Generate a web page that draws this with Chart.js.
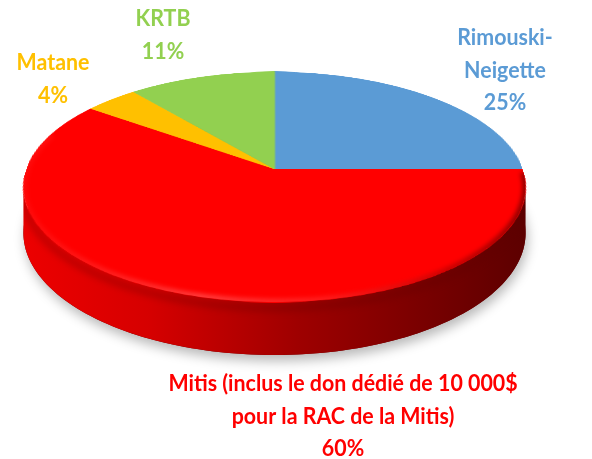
<!DOCTYPE html>
<html><head><meta charset="utf-8">
<script src="https://cdn.jsdelivr.net/npm/chart.js@4.4.1/dist/chart.umd.min.js"></script>
<style>html,body{margin:0;padding:0;background:#fff;overflow:hidden}canvas{display:block}</style>
</head><body>
<canvas id="c" width="592" height="459"></canvas>
<script>
// ---- data ----
const categories = ['Rimouski-Neigette', 'Mitis (inclus le don dédié de 10 000$ pour la RAC de la Mitis)', 'Matane', 'KRTB'];
const values = [25, 60, 4, 11];
const nameLines = [['Rimouski-', 'Neigette'], ['Mitis (inclus le don dédié de 10 000$', 'pour la RAC de la Mitis)'], ['Matane'], ['KRTB']];
const colors = ['#5B9BD5', '#FF0000', '#FFC000', '#92D050'];

// ---- view / style (not data) ----
const view = { X0: 274.5, Y0: 169, A: 248, B: 112.2, k: 0.1566, D: 44.7 };
const labelAnchor = [{x: 505, y: 45}, {x: 343, y: 391}, {x: 53, y: 70}, {x: 163, y: 26}];
const labelFont = 'bold 23.5px Lato';
const textScaleX = 0.91;
const lineH = 32.5;

function shade(hex, m) {
  const n = parseInt(hex.slice(1), 16);
  const r = Math.round(((n >> 16) & 255) * m), g = Math.round(((n >> 8) & 255) * m), b = Math.round((n & 255) * m);
  return `rgb(${r},${g},${b})`;
}

const pie3d = {
  id: 'pie3d',
  afterDatasetsDraw(chart) {
    const arcs = chart.getDatasetMeta(0).data;
    if (!arcs.length) return;
    const cv = chart.canvas, ctx = chart.ctx;
    const W = cv.width, H = cv.height;
    const off = document.createElement('canvas'); off.width = W; off.height = H;
    off.getContext('2d').drawImage(cv, 0, 0);
    ctx.save();
    ctx.setTransform(1, 0, 0, 1, 0, 0);
    ctx.clearRect(0, 0, W, H);
    const {X0, Y0, A, B, k, D} = view;
    const cx = arcs[0].x, cy = arcs[0].y, R = arcs[0].outerRadius;
    const proj = (phi, drop) => {
      const u = Math.cos(phi), v = Math.sin(phi), d = 1 - k * v;
      return [X0 + A * u / d, Y0 + B * v / d + (drop ? D / d : 0)];
    };
    const N = 240;
    // shadow of the base
    ctx.save();
    ctx.beginPath();
    for (let i = 0; i <= N; i++) { const p = proj(2 * Math.PI * i / N, true); i ? ctx.lineTo(p[0], p[1]) : ctx.moveTo(p[0], p[1]); }
    ctx.closePath();
    ctx.shadowColor = 'rgba(0,0,0,0.28)'; ctx.shadowBlur = 12; ctx.shadowOffsetY = 6; ctx.shadowOffsetX = 2;
    ctx.fillStyle = '#700000';
    ctx.fill();
    ctx.restore();
    // side walls
    const phiR = Math.asin(k) - 0.02, phiL = Math.PI - Math.asin(k) + 0.02;
    arcs.forEach((arc, i) => {
      const s = Math.max(arc.startAngle, phiR), e = Math.min(arc.endAngle, phiL);
      if (e <= s) return;
      const g = ctx.createLinearGradient(X0 - A * 1.02, 0, X0 + A * 1.02, 0);
      g.addColorStop(0, shade(colors[i], 0.93));
      g.addColorStop(0.25, shade(colors[i], 0.84));
      g.addColorStop(0.55, shade(colors[i], 0.62));
      g.addColorStop(0.8, shade(colors[i], 0.47));
      g.addColorStop(1, shade(colors[i], 0.36));
      ctx.beginPath();
      const M = 120;
      for (let j = 0; j <= M; j++) { const p = proj(s + (e - s) * j / M, false); j ? ctx.lineTo(p[0], p[1]) : ctx.moveTo(p[0], p[1]); }
      for (let j = M; j >= 0; j--) { const p = proj(s + (e - s) * j / M, true); ctx.lineTo(p[0], p[1]); }
      ctx.closePath();
      ctx.fillStyle = g;
      ctx.fill();
    });
    // side: darker band right under the rim
    ctx.save();
    ctx.beginPath();
    for (let j = 0; j <= 120; j++) { const p = proj(phiR + (phiL - phiR) * j / 120, false); j ? ctx.lineTo(p[0], p[1]) : ctx.moveTo(p[0], p[1]); }
    for (let j = 120; j >= 0; j--) { const p = proj(phiR + (phiL - phiR) * j / 120, true); ctx.lineTo(p[0], p[1]); }
    ctx.closePath();
    ctx.clip();
    ctx.filter = 'blur(3px)';
    ctx.beginPath();
    for (let j = 0; j <= 120; j++) { const p = proj(phiR + (phiL - phiR) * j / 120, false); j ? ctx.lineTo(p[0], p[1] + 6) : ctx.moveTo(p[0], p[1] + 6); }
    ctx.lineWidth = 8; ctx.strokeStyle = 'rgba(90,0,0,0.25)'; ctx.stroke();
    ctx.restore();
    // top face: perspective warp of the library-drawn pie, row by row
    const yTop = Y0 - B / (1 + k), yBot = Y0 + B / (1 - k);
    for (let y = Math.floor(yTop); y < Math.ceil(yBot); y++) {
      const t1 = (y - Y0) / B, t2 = (y + 1 - Y0) / B;
      let v1 = t1 / (1 + k * t1), v2 = t2 / (1 + k * t2);
      v1 = Math.max(-1, v1); v2 = Math.min(1, v2);
      if (v2 <= v1) continue;
      const vm = (v1 + v2) / 2, sc = 1 / (1 - k * vm);
      ctx.drawImage(off, cx - R, cy + R * v1, 2 * R, R * (v2 - v1), X0 - A * sc, y, 2 * A * sc, 1);
    }
    // bevel on the front rim of the top face
    ctx.save();
    ctx.beginPath();
    for (let i = 0; i <= N; i++) { const p = proj(2 * Math.PI * i / N, false); i ? ctx.lineTo(p[0], p[1]) : ctx.moveTo(p[0], p[1]); }
    ctx.closePath();
    ctx.clip();
    ctx.filter = 'blur(2px)';
    const bg = ctx.createLinearGradient(X0 - A, 0, X0 + A, 0);
    bg.addColorStop(0, 'rgba(255,70,70,0.15)');
    bg.addColorStop(0.35, 'rgba(255,120,120,0.5)');
    bg.addColorStop(0.6, 'rgba(255,90,90,0.3)');
    bg.addColorStop(0.85, 'rgba(110,0,0,0.35)');
    bg.addColorStop(1, 'rgba(80,0,0,0.6)');
    ctx.beginPath();
    for (let j = 0; j <= 160; j++) { const p = proj(0.03 + (Math.PI + 0.3) * j / 160, false); j ? ctx.lineTo(p[0], p[1]) : ctx.moveTo(p[0], p[1]); }
    ctx.lineWidth = 7; ctx.strokeStyle = bg; ctx.stroke();
    ctx.restore();
    ctx.restore();
  },
  afterDraw(chart) {
    const ctx = chart.ctx;
    ctx.save();
    ctx.font = labelFont;
    ctx.textAlign = 'center';
    ctx.textBaseline = 'alphabetic';
    values.forEach((v, i) => {
      const lines = nameLines[i].concat([v + '%']);
      ctx.fillStyle = colors[i];
      lines.forEach((t, j) => {
        ctx.save();
        ctx.translate(labelAnchor[i].x, labelAnchor[i].y + j * lineH);
        ctx.scale(textScaleX, 1);
        ctx.fillText(t, 0, 0);
        ctx.restore();
      });
    });
    ctx.restore();
  }
};

new Chart(document.getElementById('c'), {
  type: 'pie',
  data: {
    labels: categories,
    datasets: [{ data: values, backgroundColor: colors, borderColor: colors, borderWidth: 1 }]
  },
  options: {
    responsive: false,
    animation: false,
    events: [],
    rotation: 0,
    layout: { padding: 0 },
    plugins: { legend: { display: false }, tooltip: { enabled: false } }
  },
  plugins: [pie3d]
});
</script>
</body></html>
